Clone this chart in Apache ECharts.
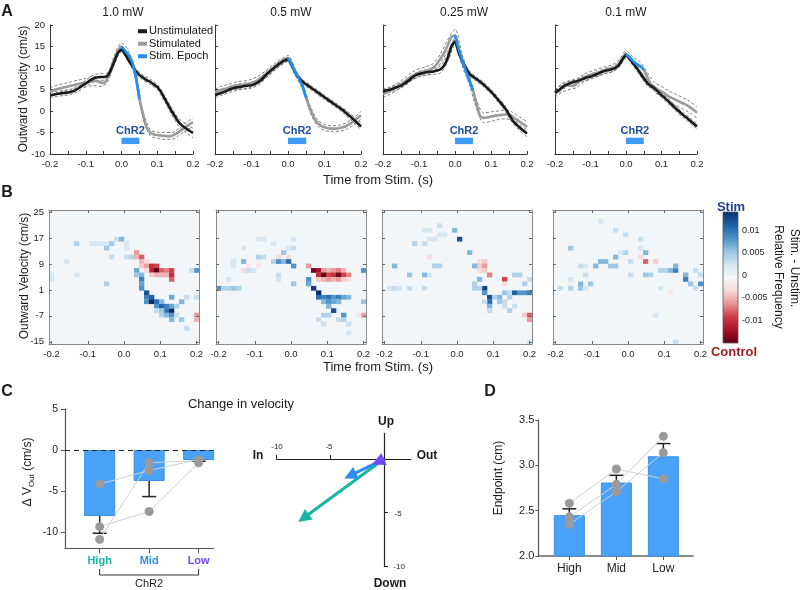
<!DOCTYPE html>
<html><head><meta charset="utf-8"><title>ChR2 velocity figure</title>
<script src="https://cdn.jsdelivr.net/npm/echarts@6.0.0/dist/echarts.min.js"></script>
<style>html,body{margin:0;padding:0;background:#fff;}#chart{width:800px;height:590px;}</style>
</head><body><div id="chart"></div>
<script>
// ================= DATA =================
const TIME = [-0.2,-0.19,-0.18,-0.17,-0.16,-0.15,-0.14,-0.13,-0.12,-0.11,-0.1,-0.09,-0.08,-0.07,-0.06,-0.05,-0.04,-0.03,-0.02,-0.01,0,0.01,0.02,0.03,0.04,0.05,0.06,0.07,0.08,0.09,0.1,0.11,0.12,0.13,0.14,0.15,0.16,0.17,0.18,0.19,0.2];
const POWER_LABELS = ['1.0 mW','0.5 mW','0.25 mW','0.1 mW'];

const UNSTIM_1_0 = [3.7,3.8,4.0,4.1,4.2,4.3,4.5,4.8,5.3,5.9,6.4,7.0,7.5,7.8,7.9,7.9,8.1,9.5,11.5,13.5,14.3,13.2,11.8,10.5,9.3,8.4,7.8,7.2,6.8,6.2,5.6,4.5,3.0,1.5,0.0,-1.3,-2.6,-3.4,-4.0,-4.6,-5.1];
const STIM_1_0   = [4.5,4.8,5.1,5.3,5.5,5.7,5.9,6.1,6.3,6.5,6.6,6.8,7.0,7.0,6.7,6.5,7.5,9.8,12.0,14.0,15.0,14.0,13.0,11.3,8.0,2.8,-0.8,-3.8,-5.0,-5.4,-5.6,-5.7,-5.8,-5.9,-5.8,-5.4,-4.9,-4.3,-3.7,-3.1,-2.6];
const UNSTIM_0_5 = [3.7,4.0,4.3,4.6,5.0,5.3,5.5,5.6,5.8,5.9,6.0,6.3,6.8,7.5,8.4,9.2,9.9,10.6,11.2,11.7,12.0,10.6,8.9,7.7,6.8,6.2,5.6,5.0,4.4,3.8,3.2,2.6,2.0,1.4,0.8,0.2,-0.5,-1.2,-2.0,-2.8,-3.6];
const STIM_0_5   = [4.3,4.7,5.0,5.2,5.5,5.8,5.9,6.0,6.1,6.3,6.5,6.8,7.3,7.9,8.6,9.3,10.0,10.7,11.3,11.9,12.3,10.8,9.0,7.5,5.7,3.0,0.6,-1.4,-2.7,-3.4,-3.8,-4.0,-4.1,-4.1,-4.0,-3.8,-3.5,-3.0,-2.4,-1.7,-1.0];
const UNSTIM_0_25 = [4.5,4.8,5.0,5.3,5.6,5.9,6.4,7.0,7.7,8.3,8.6,8.8,9.0,9.1,9.2,9.4,9.7,10.6,12.4,15.0,16.2,13.6,11.6,10.0,8.7,8.0,7.4,6.8,6.1,5.3,4.5,3.6,2.6,1.6,0.5,-0.8,-2.2,-3.1,-3.9,-4.6,-5.2];
const STIM_0_25   = [4.0,4.3,4.7,5.2,5.7,6.2,6.8,7.5,8.1,8.5,8.9,9.1,9.3,9.6,10.1,11.0,12.2,13.6,15.3,17.2,17.6,14.5,11.8,9.4,7.1,4.8,1.5,-1.2,-1.6,-1.5,-1.3,-1.1,-1.0,-0.9,-0.8,-0.9,-1.3,-1.9,-2.5,-3.1,-3.7];
const UNSTIM_0_1 = [4.3,4.8,5.5,6.0,6.4,6.7,6.9,7.2,7.5,7.8,8.0,8.3,8.6,9.0,9.3,9.5,9.7,10.0,10.7,12.0,13.0,12.2,11.1,10.0,8.8,7.6,6.5,5.8,5.3,4.5,3.7,3.0,2.2,1.4,0.6,-0.1,-0.9,-1.5,-2.2,-2.9,-3.6];
const STIM_0_1   = [4.0,4.7,5.4,6.0,6.0,5.8,6.3,7.0,7.6,8.1,8.4,8.7,8.9,9.2,9.5,9.8,9.9,10.3,11.0,12.4,13.2,12.5,11.6,10.9,10.4,9.6,7.9,6.3,5.6,5.0,4.5,4.0,3.4,3.0,2.6,2.2,1.8,1.4,0.9,0.3,-0.4];

// SEM at every second time point (t = -0.2, -0.18, ... 0.2)
const SEM_U_1_0 = [0.6,0.6,0.6,0.6,0.7,0.7,0.8,0.8,0.7,0.6,0.5,0.5,0.6,0.6,0.6,0.6,0.7,0.8,0.9,1.0,1.1];
const SEM_S_1_0 = [0.9,0.9,0.9,0.9,0.9,1.0,1.1,1.0,0.9,0.9,0.8,0.9,1.0,0.8,0.7,0.7,0.8,0.8,0.8,0.9,1.0];
const SEM_U_0_5 = [0.6,0.6,0.7,0.7,0.7,0.7,0.7,0.7,0.6,0.6,0.5,0.5,0.5,0.5,0.5,0.5,0.5,0.5,0.6,0.7,0.8];
const SEM_S_0_5 = [0.8,0.8,0.8,0.9,0.9,0.9,0.9,0.8,0.8,0.7,0.6,0.7,0.7,0.8,0.7,0.7,0.7,0.7,0.8,0.8,0.9];
const SEM_U_0_25 = [0.6,0.6,0.6,0.6,0.6,0.6,0.6,0.7,0.8,0.9,0.8,0.7,0.6,0.5,0.5,0.5,0.5,0.6,0.6,0.7,0.8];
const SEM_S_0_25 = [0.8,0.8,0.8,0.8,0.9,0.9,1.0,1.0,1.1,1.3,1.4,1.3,1.0,1.0,1.1,1.1,1.0,1.0,1.0,1.1,1.2];
const SEM_U_0_1 = [0.6,0.6,0.6,0.6,0.6,0.6,0.6,0.6,0.6,0.6,0.6,0.6,0.6,0.6,0.6,0.6,0.6,0.6,0.6,0.6,0.6];
const SEM_S_0_1 = [0.8,1.0,1.0,0.9,0.9,0.8,0.8,0.8,0.8,0.8,0.8,0.9,1.0,1.0,1.1,1.2,1.3,1.3,1.3,1.3,1.3];

const STIM_ON = 0.0, STIM_OFF = 0.05;
const A_Y_TICKS = [-10, 20];

// Heatmaps: [timeBin, velocityBin(from top), Stim - Unstim relative frequency]
const HM_T_RANGE = [-0.2, 0.2];
const HM_V_RANGE = [-15, 25];
const HM_BINS = 30;
const HM_T_TICKS = [-0.2,-0.1,0,0.1,0.2];
const HM_V_TICKS = [-15,-7,1,9,17,25];
const HM_1_0 = [[5,7,.004],[8,7,.002],[9,7,.002],[10,7,.002],[11,7,.002],[12,7,.005],[13,6,.003],[14,6,.006],[15,7,.002],[11,8,.005],[15,8,.002],[12,10,.003],[15,10,.003],[16,10,.004],
 [3,11,.002],[0,14,.002],[0,15,.002],[5,14,.002],[11,16,.004],
 [17,9,-.006],[17,10,-.005],[18,10,-.008],[18,11,-.005],[19,11,-.003],[18,12,-.004],[19,12,-.006],[20,12,-.010],[21,12,-.009],[20,13,-.011],[21,13,-.016],[22,13,-.008],[23,13,-.007],[24,13,-.009],[19,13,-.003],[20,14,-.004],[21,14,-.005],[22,14,-.005],[23,14,-.005],[24,14,-.010],[24,15,-.008],[29,23,-.006],[29,24,-.005],
 [17,13,.007],[17,14,.005],[18,14,.006],[18,15,.009],[18,16,.007],[18,17,.008],[19,18,.012],[19,19,.009],[20,19,.011],[19,20,.008],[20,20,.015],[21,20,.010],[21,21,.008],[22,21,.011],[22,20,.006],[23,21,.009],[23,22,.010],[24,22,.016],[24,21,.007],[22,22,.005],[22,23,.004],[23,23,.006],[24,23,.008],[24,24,.006],[21,22,.003],[25,21,.004],[26,20,.006],[27,19,.003],[24,19,.007],[26,24,.005],[27,26,.003],[29,19,.003],[29,13,.008],[28,13,.003],[25,23,.003]];
const HM_0_5 = [[8,6,.002],[9,6,.002],[15,6,.002],[5,8,.002],[11,7,.002],[14,8,.002],[15,8,.003],[13,9,.005],[8,10,.004],[9,10,.003],[12,10,-.003],[14,10,-.003],[5,11,.006],
 [11,11,.004],[12,11,.008],[13,11,.006],[14,11,.010],[15,12,.008],[3,11,.002],[3,12,.002],[5,13,-.003],[6,12,-.002],[6,13,.003],[7,13,.002],[8,12,-.002],[12,14,.003],[12,15,.002],[2,15,.002],
 [0,17,.008],[1,17,.004],[2,17,.004],[3,17,.005],[4,17,.004],
 [18,12,-.006],[19,13,-.014],[20,13,-.012],[21,13,-.006],[22,13,-.005],[23,13,-.006],[24,13,-.007],[25,13,-.005],[20,14,-.010],[21,14,-.015],[22,14,-.009],[23,14,-.010],[24,14,-.014],[25,14,-.009],[26,14,-.007],[20,15,-.004],[21,15,-.005],[22,15,-.006],[23,15,-.005],[24,15,-.006],[25,15,-.004],[26,15,-.003],
 [18,15,.008],[18,16,.007],[19,17,.013],[20,18,.014],[20,19,.010],[21,19,.009],[22,19,.010],[23,19,.008],[24,19,.009],[25,19,.007],[21,20,.006],[22,20,.008],[23,20,.007],[24,20,.006],[22,21,.006],[23,22,.012],[25,23,.008],[21,23,.004],[22,23,.004],[20,24,.003],[21,25,.003],[26,25,.003],[26,27,.002],[26,19,.006],[29,13,.008],[29,20,.005],[29,23,-.006],[28,23,-.002],[15,16,.005],[24,24,.003],[25,24,.004]];
const HM_0_25 = [[9,4,.002],[11,3,.003],[14,4,.006],[15,6,.012],[8,4,.002],[9,6,.002],[10,6,.002],[11,5,.002],[12,5,.002],[6,7,.004],[8,7,.003],[17,9,.006],[9,10,-.003],[10,12,.004],[11,12,.004],[2,12,.006],
 [5,14,.005],[8,14,.006],[9,14,.002],[1,17,.002],[2,17,.003],[3,17,.002],[5,17,.003],[8,17,.003],
 [19,11,-.003],[20,11,-.004],[19,12,-.004],[20,12,-.006],[19,13,-.003],[20,13,-.004],[21,14,-.007],[24,15,-.009],[24,16,-.003],
 [18,12,.006],[19,15,.006],[18,16,.004],[20,17,.013],[18,17,.004],[19,17,.004],[20,18,.008],[21,19,.012],[21,20,.010],[21,21,.006],[22,19,.004],[23,19,.006],[23,20,.005],[24,18,.005],[25,18,.003],[26,18,.011],[27,18,.008],[28,18,.008],[29,18,.009],[25,19,.004],[26,14,.004],[27,14,.004],[28,16,.004],[29,15,.003],[24,20,.003],[24,21,.003],[20,20,.003],[21,22,.003],[25,22,.004],[26,21,.003],[28,23,-.004],[29,23,-.008],[29,24,-.006],[29,29,.002]];
const HM_0_1 = [[9,2,.002],[12,4,.003],[14,5,.003],[17,6,.003],[17,8,.002],[18,9,.006],[17,10,-.003],[18,11,-.008],[20,11,-.004],[14,9,.004],[12,10,.006],[13,9,.002],
 [9,11,.006],[10,11,.006],[11,12,.005],[12,12,.005],[8,12,.006],[15,11,.003],[7,16,.005],[18,14,.005],[19,14,.004],[15,14,.003],[21,13,.004],[22,13,.004],[23,13,.006],[24,13,.009],[24,12,.006],
 [26,14,.006],[26,15,.009],[27,16,.005],[28,17,.003],[29,16,.008],[28,13,.003],[29,14,.003],[21,17,.002],[23,18,-.002],[20,23,.002],[24,29,.003],
 [3,8,.005],[5,12,.003],[6,12,.002],[3,15,.002],[5,16,.006],[5,17,.005],[6,17,.002],[1,17,.003],[3,17,.004],[6,14,.003]];
const CBAR_RANGE = [-0.015, 0.014];
const CBAR_TICKS = [0.01, 0.005, 0, -0.005, -0.01];

// Panel C
const CATEGORIES = ['High','Mid','Low'];
const DVOUT_MEAN = [-8.05, -3.78, -1.22];
const DVOUT_SEM  = [2.1, 1.9, 0.15];
const DVOUT_SUBJ = [[-4.15,-2.5,-1.15],[-9.35,-7.5,-1.55],[-10.9,-1.55,-1.3]];
const C_Y_TICKS = [5, 0, -5, -10];
const VEC_X = [-7.5, -3.15, -0.55];
const VEC_Y = [-5.5, -1.55, -0.25];
const VEC_TICKS = [-10, -5];
// Panel D
const END_MEAN = [2.45, 2.81, 3.10];
const END_SEM  = [0.07, 0.08, 0.14];
const END_SUBJ = [[2.58,2.96,2.85],[2.43,2.79,3.32],[2.35,2.71,3.14]];

// ================= STYLE / LAYOUT =================
const FONT = 'Liberation Sans, Arial, Helvetica, sans-serif';
const COL = {black:'#1a1a1a', gray:'#9b9b9b', sem:'#5e5e5e', blue:'#1f8ff5', chr2:'#3d9af7', chr2Text:'#1f4e9c',
  bar:'#4aa2f8', barBorder:'#3a90e8', dot:'#9a9a9a', subj:'#d0d0d0', high:'#17b5a3', mid:'#2f8ef0', low:'#7048f5', axis:'#333'};
const PALETTE = ['#5e0016','#a5122a','#cf3a45','#ea9396','#f8d8d8','#f5f7f9','#d2e4f1','#97c4e2','#4a90c6','#1f5fa6','#0b2e6b'];
const LAYOUT_A = [{left:50,width:143},{left:215,width:146},{left:383,width:144},{left:555,width:142}];
const LAYOUT_B = [{left:49,width:150},{left:216,width:150},{left:382,width:150},{left:553,width:150}];

const grid = [], xAxis = [], yAxis = [], series = [];
function addGrid(g, x, y){ grid.push(g); const gi = grid.length-1; x.gridIndex = gi; y.gridIndex = gi; xAxis.push(x); yAxis.push(y);
  return {gi, xi:xAxis.length-1, yi:yAxis.length-1}; }
const lbl = (o) => Object.assign({fontFamily:FONT, color:'#222'}, o);

// ---------- Panel A ----------
const A_SETS = [[UNSTIM_1_0,STIM_1_0,SEM_U_1_0,SEM_S_1_0],[UNSTIM_0_5,STIM_0_5,SEM_U_0_5,SEM_S_0_5],[UNSTIM_0_25,STIM_0_25,SEM_U_0_25,SEM_S_0_25],[UNSTIM_0_1,STIM_0_1,SEM_U_0_1,SEM_S_0_1]];
const semIdx = TIME.map((t,k)=>k).filter(k=>k%2===0);
A_SETS.forEach((set,i)=>{
  const g = addGrid({left:LAYOUT_A[i].left, top:25, width:LAYOUT_A[i].width, height:129},
    {type:'value', min:-0.2, max:0.2, interval:0.1, axisLine:{onZero:false, lineStyle:{color:COL.axis}},
     axisTick:{inside:true, length:3, lineStyle:{color:COL.axis}}, minorTick:{show:true, splitNumber:2, length:3, lineStyle:{color:COL.axis}},
     axisLabel:lbl({formatter:v=>v.toFixed(1), fontSize:9.5, margin:5}), splitLine:{show:false}},
    {type:'value', min:A_Y_TICKS[0], max:A_Y_TICKS[1], interval:5, axisLine:{show:true, onZero:false, lineStyle:{color:COL.axis}},
     axisTick:{show:true, inside:true, length:3, lineStyle:{color:COL.axis}}, axisLabel:lbl({show:i===0, fontSize:9.5, margin:5}), splitLine:{show:false}});
  const ax = {xAxisIndex:g.xi, yAxisIndex:g.yi};
  const [U,S,SU,SS] = set;
  [[U,SU],[S,SS]].forEach(([M,E])=>{
    [1,-1].forEach(sg=>series.push(Object.assign({type:'line', silent:true, symbol:'none', smooth:0.3, z:2,
      data: semIdx.map((k,j)=>[TIME[k], M[k]+sg*E[j]]), lineStyle:{color:COL.sem, width:0.8, type:[3,2]}}, ax)));
  });
  series.push(Object.assign({name:'Stimulated', type:'line', symbol:'none', smooth:0.2, z:3,
    data: TIME.map((t,k)=>[t,S[k]]), lineStyle:{color:COL.gray, width:2.6}, itemStyle:{color:COL.gray}}, ax));
  series.push(Object.assign({name:'Unstimulated', type:'line', symbol:'none', smooth:0.2, z:4,
    data: TIME.map((t,k)=>[t,U[k]]), lineStyle:{color:COL.black, width:2.6}, itemStyle:{color:COL.black}}, ax));
  series.push(Object.assign({name:'Stim. Epoch', type:'line', symbol:'none', smooth:0.2, z:5,
    data: TIME.map((t,k)=>[t,S[k]]).filter(p=>p[0]>=STIM_ON-1e-9 && p[0]<=STIM_OFF+1e-9),
    lineStyle:{color:COL.blue, width:2.6}, itemStyle:{color:COL.blue},
    markArea:{silent:true, itemStyle:{color:COL.chr2},
      label:{show:true, position:'top', distance:1, formatter:'ChR2', color:COL.chr2Text, fontWeight:'bold', fontSize:11, fontFamily:FONT},
      data:[[{xAxis:STIM_ON, yAxis:-6.2},{xAxis:STIM_OFF, yAxis:-7.7}]]}}, ax));
});

// ---------- Panel B ----------
const DT = (HM_T_RANGE[1]-HM_T_RANGE[0])/(HM_BINS-1);
const DV = (HM_V_RANGE[1]-HM_V_RANGE[0])/(HM_BINS-1);
const hmIdx = [];
function hmRender(params, api){
  const t = api.value(0), v = api.value(1);
  const p0 = api.coord([t-DT/2, v+DV/2]), p1 = api.coord([t+DT/2, v-DV/2]);
  return {type:'rect', shape:{x:p0[0], y:p0[1], width:p1[0]-p0[0]+0.3, height:p1[1]-p0[1]+0.3}, style:{fill:api.visual('color')}};
}
[HM_1_0,HM_0_5,HM_0_25,HM_0_1].forEach((HM,i)=>{
  const xmin = HM_T_RANGE[0]-DT/2, xmax = HM_T_RANGE[1]+DT/2, ymin = HM_V_RANGE[0]-DV/2, ymax = HM_V_RANGE[1]+DV/2;
  const g = addGrid({left:LAYOUT_B[i].left, top:210, width:LAYOUT_B[i].width, height:134, show:true, backgroundColor:'#f3f6f9', borderWidth:0},
    {type:'value', min:xmin, max:xmax, z:5, axisLine:{onZero:false, lineStyle:{color:'#8a8a8a'}},
     axisTick:{inside:true, length:3, customValues:HM_T_TICKS, lineStyle:{color:'#666'}},
     axisLabel:lbl({customValues:HM_T_TICKS, formatter:v=>v.toFixed(1), fontSize:9.5, margin:5}), splitLine:{show:false}},
    {type:'value', min:ymin, max:ymax, z:5, axisLine:{show:true, onZero:false, lineStyle:{color:'#8a8a8a'}},
     axisTick:{show:true, inside:true, length:3, customValues:HM_V_TICKS, lineStyle:{color:'#666'}},
     axisLabel:lbl({show:i===0, customValues:HM_V_TICKS, fontSize:9.5, margin:5}), splitLine:{show:false}});
  xAxis.push({gridIndex:g.gi, type:'value', position:'top', min:xmin, max:xmax, z:5, axisLine:{onZero:false, lineStyle:{color:'#8a8a8a'}},
    axisTick:{inside:true, length:3, customValues:HM_T_TICKS, lineStyle:{color:'#666'}}, axisLabel:{show:false}, splitLine:{show:false}});
  yAxis.push({gridIndex:g.gi, type:'value', position:'right', min:ymin, max:ymax, z:5, axisLine:{show:true, onZero:false, lineStyle:{color:'#8a8a8a'}},
    axisTick:{show:true, inside:true, length:3, customValues:HM_V_TICKS, lineStyle:{color:'#666'}}, axisLabel:{show:false}, splitLine:{show:false}});
  hmIdx.push(series.length);
  series.push({type:'custom', xAxisIndex:g.xi, yAxisIndex:g.yi, renderItem:hmRender, silent:true, z:2,
    dimensions:['t','v','d'], encode:{x:0, y:1},
    data: HM.map(([c,r,val])=>[HM_T_RANGE[0]+c*DT, HM_V_RANGE[1]-r*DV, val])});
});
// colour bar
{
  const g = addGrid({left:723, top:212, width:15, height:131},
    {type:'value', min:0, max:1, show:false},
    {type:'value', position:'right', min:CBAR_RANGE[0], max:CBAR_RANGE[1], axisLine:{show:false}, axisTick:{show:false},
     axisLabel:lbl({customValues:CBAR_TICKS, fontSize:9, margin:4, formatter:v=>v===0?'0':String(v)}), splitLine:{show:false}});
  series.push({type:'custom', xAxisIndex:g.xi, yAxisIndex:g.yi, silent:true, data:[[0.5,0]],
    renderItem:(params)=>{ const cs = params.coordSys; return {type:'rect', shape:{x:cs.x, y:cs.y, width:cs.width, height:cs.height},
      style:{fill:new echarts.graphic.LinearGradient(0,1,0,0, PALETTE.map((c,k)=>({offset:k/(PALETTE.length-1), color:c}))), stroke:'#555', lineWidth:0.8}}; }});
}

// ---------- Panel C (bars) ----------
function errRender(dir){ return function(params, api){
  const x = api.value(0), m = api.value(1), s = api.value(2);
  const a = api.coord([x,m]), b = api.coord([x,m+dir*s]);
  return {type:'group', children:[
    {type:'line', shape:{x1:a[0],y1:a[1],x2:b[0],y2:b[1]}, style:{stroke:'#222', lineWidth:1.5}},
    {type:'line', shape:{x1:b[0]-7,y1:b[1],x2:b[0]+7,y2:b[1]}, style:{stroke:'#222', lineWidth:1.5}}]};
};}
{
  const g = addGrid({left:65, top:409, width:148.5, height:139.4},
    {type:'value', min:-0.7, max:2.3, axisLine:{onZero:false, lineStyle:{color:'#555', width:1.2}},
     axisTick:{customValues:[0,1,2], length:5, lineStyle:{color:'#555'}},
     axisLabel:{customValues:[0,1,2], margin:7, formatter:v=>`{c${v}|${CATEGORIES[v]}}`,
       rich:{c0:{color:COL.high, fontWeight:'bold', fontSize:11, fontFamily:FONT}, c1:{color:COL.mid, fontWeight:'bold', fontSize:11, fontFamily:FONT}, c2:{color:COL.low, fontWeight:'bold', fontSize:11, fontFamily:FONT}}},
     splitLine:{show:false}},
    {type:'value', min:-12, max:5, axisLine:{show:true, onZero:false, lineStyle:{color:'#555', width:1.2}},
     axisTick:{show:true, customValues:C_Y_TICKS, length:4, lineStyle:{color:'#555'}},
     axisLabel:lbl({customValues:C_Y_TICKS, fontSize:10.5, margin:7}), splitLine:{show:false}});
  const ax = {xAxisIndex:g.xi, yAxisIndex:g.yi};
  series.push(Object.assign({type:'bar', barWidth:31, z:2,
    data: DVOUT_MEAN.map((v,k)=>[k,v]), itemStyle:{color:COL.bar, borderColor:COL.barBorder, borderWidth:1},
    markLine:{silent:true, symbol:'none', label:{show:false}, lineStyle:{color:'#222', type:[5,4], width:1.2}, data:[{yAxis:0}]}}, ax));
  series.push(Object.assign({type:'custom', renderItem:errRender(-1), z:3, silent:true,
    data: DVOUT_MEAN.map((v,k)=>[k,v,DVOUT_SEM[k]])}, ax));
  DVOUT_SUBJ.forEach(s=>series.push(Object.assign({type:'line', z:4, silent:true, symbol:'circle', symbolSize:9,
    data:s.map((v,k)=>[k,v]), itemStyle:{color:COL.dot}, lineStyle:{color:COL.subj, width:1}}, ax)));
}
// ---------- Panel C (vectors) ----------
{
  const g = addGrid({left:276.7, top:433.3, width:134.1, height:133},
    {type:'value', min:-10, max:2.5, axisLine:{onZero:true, lineStyle:{color:'#222', width:1.2}},
     axisTick:{inside:true, customValues:VEC_TICKS, length:4, lineStyle:{color:'#222'}},
     axisLabel:{show:false}, splitLine:{show:false}},
    {type:'value', min:-10, max:2.4, axisLine:{show:true, onZero:true, lineStyle:{color:'#222', width:1.2}},
     axisTick:{show:true, inside:true, customValues:VEC_TICKS, length:4, lineStyle:{color:'#222'}},
     axisLabel:{show:false}, splitLine:{show:false}});
  const VCOL = [COL.high, COL.mid, COL.low];
  series.push({type:'lines', coordinateSystem:'cartesian2d', xAxisIndex:g.xi, yAxisIndex:g.yi, silent:true, z:4,
    symbol:['none','triangle'], symbolSize:[0,13],
    data: VEC_X.map((x,k)=>({coords:[[0,0],[x,VEC_Y[k]]], lineStyle:{color:VCOL[k], width:3, opacity:1}}))});
}
// ---------- Panel D ----------
{
  const g = addGrid({left:538.3, top:420, width:154.7, height:136},
    {type:'value', min:-0.66, max:2.63, axisLine:{onZero:false, lineStyle:{color:'#666', width:1.6}},
     axisTick:{customValues:[0,1,2], length:4, lineStyle:{color:'#555'}},
     axisLabel:lbl({customValues:[0,1,2], formatter:v=>CATEGORIES[v], fontSize:12, margin:7}), splitLine:{show:false}},
    {type:'value', min:2, max:3.5, interval:0.5, axisLine:{show:true, onZero:false, lineStyle:{color:'#555', width:1.2}},
     axisTick:{show:true, length:3, lineStyle:{color:'#555'}},
     axisLabel:lbl({formatter:v=>v.toFixed(1), fontSize:11, margin:4}), splitLine:{show:false}});
  const ax = {xAxisIndex:g.xi, yAxisIndex:g.yi};
  series.push(Object.assign({type:'bar', barWidth:31, z:2,
    data: END_MEAN.map((v,k)=>[k,v]), itemStyle:{color:COL.bar, borderColor:COL.barBorder, borderWidth:1}}, ax));
  series.push(Object.assign({type:'custom', renderItem:errRender(1), z:3, silent:true,
    data: END_MEAN.map((v,k)=>[k,v,END_SEM[k]])}, ax));
  END_SUBJ.forEach(s=>series.push(Object.assign({type:'line', z:4, silent:true, symbol:'circle', symbolSize:9,
    data:s.map((v,k)=>[k,v]), itemStyle:{color:COL.dot}, lineStyle:{color:COL.subj, width:1}}, ax)));
}

// ---------- text annotations ----------
function T(text, x, y, o){ o = o||{}; return {type:'text', x, y, rotation:o.rot||0, silent:true, z:10,
  style:{text, fill:o.color||'#1a1a1a', fontSize:o.size||12, fontWeight:o.bold?'bold':'normal', fontFamily:FONT, align:'center', verticalAlign:'middle'}}; }
const graphic = [
  T('A',7,12,{size:16,bold:true}), T('B',7,193,{size:16,bold:true}), T('C',7,392,{size:16,bold:true}), T('D',490,392,{size:16,bold:true}),
  T(POWER_LABELS[0],123,13), T(POWER_LABELS[1],291,13), T(POWER_LABELS[2],464,13), T(POWER_LABELS[3],626,13),
  T('Time from Stim. (s)',378,180,{size:13}), T('Time from Stim. (s)',378,367,{size:13}),
  T('Outward Velocity (cm/s)',24,89,{rot:Math.PI/2, size:12}), T('Outward Velocity (cm/s)',25,276,{rot:Math.PI/2, size:12}),
  T('Stim',731,207,{size:13,bold:true,color:'#1d3f8f'}), T('Control',734,352,{size:13,bold:true,color:'#9b1c1c'}),
  T('Stim. - Unstim.',794,268,{rot:-Math.PI/2, size:12}), T('Relative Frequency',778,277,{rot:-Math.PI/2, size:12}),
  T('Change in velocity',241,404,{size:13}),
  T('In',258,456,{bold:true}), T('Out',427,456,{bold:true}), T('Up',386,422,{bold:true}), T('Down',390,584,{bold:true}),
  // tick labels of the vector plot (axis crosses at origin)
  T(String(VEC_TICKS[0]),277,447,{size:8}), T(String(VEC_TICKS[1]),329,447,{size:8}),
  T(' '+VEC_TICKS[1],397,514,{size:8}), T(' '+VEC_TICKS[0],398,567,{size:8}),
  T('ChR2',149,584,{size:11}),
  T('Endpoint (cm)',499,478,{rot:Math.PI/2, size:12}),
  {type:'text', x:28, y:472, rotation:Math.PI/2, silent:true, z:10,
   style:{text:'{m|Δ V}{s|Out}{m| (cm/s)}', align:'center', verticalAlign:'middle',
     rich:{m:{fontSize:12, fontFamily:FONT, fill:'#1a1a1a', lineHeight:16, verticalAlign:'middle'}, s:{fontSize:8, fontFamily:FONT, fill:'#1a1a1a', lineHeight:8, verticalAlign:'bottom'}}}},
  {type:'polyline', silent:true, z:10, shape:{points:[[99.6,569],[99.6,575],[198.6,575],[198.6,569]]}, style:{stroke:'#333', lineWidth:1, fill:null}}
];

const option = {
  animation:false,
  backgroundColor:'#fff',
  textStyle:{fontFamily:FONT},
  grid, xAxis, yAxis, series, graphic,
  legend:{data:[{name:'Unstimulated',icon:'rect'},{name:'Stimulated',icon:'rect'},{name:'Stim. Epoch',icon:'rect'}],
    orient:'vertical', left:133, top:20, itemWidth:9, itemHeight:4, itemGap:0, selectedMode:false,
    textStyle:{fontSize:11, color:'#111', fontFamily:FONT, lineHeight:12.5, padding:[0,0,0,-3]}},
  visualMap:{type:'continuous', show:false, min:CBAR_RANGE[0], max:CBAR_RANGE[1], dimension:2, seriesIndex:hmIdx, inRange:{color:PALETTE}}
};
const chart = echarts.init(document.getElementById('chart'), null, {renderer:'canvas'});
chart.setOption(option);
</script>
</body></html>
